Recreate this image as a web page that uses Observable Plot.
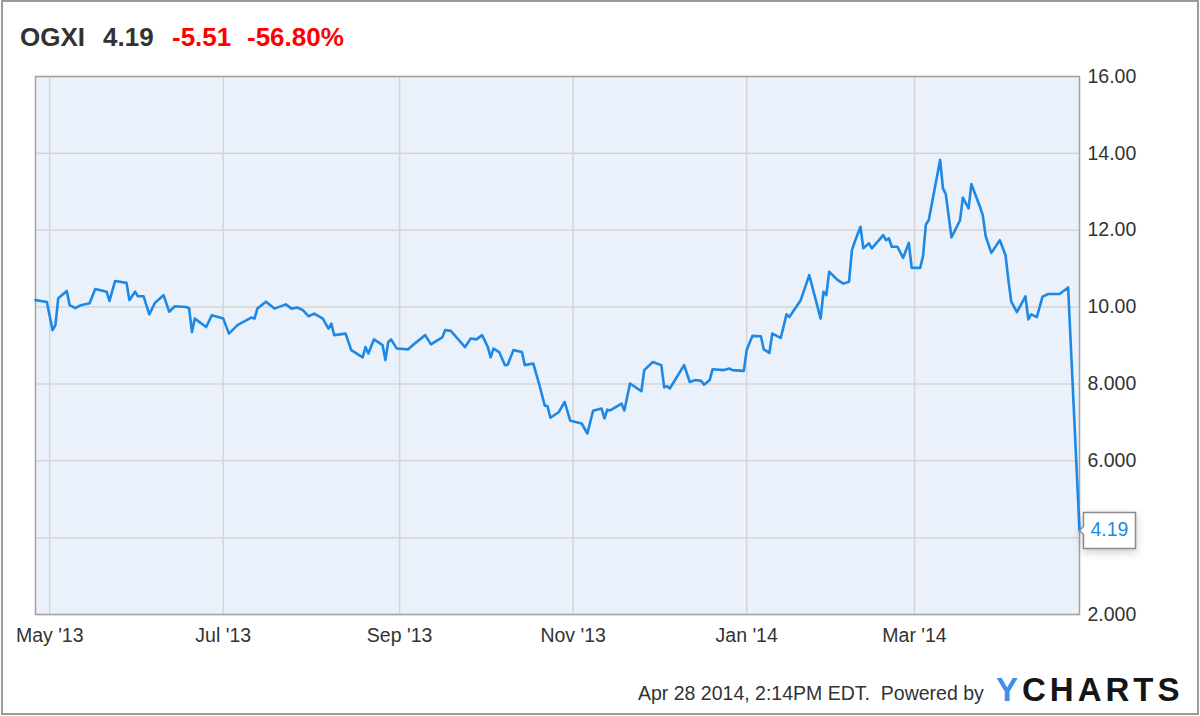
<!DOCTYPE html>
<html><head><meta charset="utf-8">
<script src="https://cdn.jsdelivr.net/npm/d3@7"></script>
<script src="https://cdn.jsdelivr.net/npm/@observablehq/plot@0.6"></script>
<style>
html,body{margin:0;padding:0;background:#fff;}
#wrap{position:relative;width:1200px;height:716px;overflow:hidden;font-family:"Liberation Sans",Arial,sans-serif;}
#border{position:absolute;left:1px;top:0;width:1198px;height:715px;box-sizing:border-box;border:2px solid #9b9b9b;pointer-events:none;}
.t{position:absolute;line-height:1;white-space:pre;}
.title{top:24px;font-size:26px;font-weight:bold;}
#chart{position:absolute;left:0;top:60px;}
#chart svg g[aria-label="tip"]{filter:none !important;}
#chart svg g[aria-label="tip"] text, #chart svg g[aria-label="tip"] tspan{fill:#1e88e5;}
</style></head>
<body><div id="wrap">
<span class="t title" style="left:20px;color:#333">OGXI</span>
<span class="t title" style="left:103px;color:#333">4.19</span>
<span class="t title" style="left:172px;color:#ff0000">-5.51</span>
<span class="t title" style="left:247px;color:#ff0000">-56.80%</span>
<div id="chart"></div>
<span class="t" style="left:638px;top:683.5px;font-size:19.5px;color:#333">Apr 28 2014, 2:14PM EDT.&nbsp; Powered by</span>
<span class="t" style="left:996px;top:673px;font-size:33px;font-weight:bold;letter-spacing:4px;color:#151515"><span style="color:#3f8fe6">Y</span>CHARTS</span>
<div id="border"></div>
</div>
<script>
const dates = [
"2013-04-26","2013-04-30","2013-05-02","2013-05-03","2013-05-04","2013-05-07","2013-05-08","2013-05-10","2013-05-12","2013-05-15","2013-05-17","2013-05-21","2013-05-22","2013-05-24","2013-05-28","2013-05-29","2013-05-31",
"2013-06-01","2013-06-03","2013-06-05","2013-06-07","2013-06-10","2013-06-12","2013-06-14","2013-06-18","2013-06-19","2013-06-20","2013-06-21","2013-06-25","2013-06-27",
"2013-07-01","2013-07-03","2013-07-06","2013-07-11","2013-07-12","2013-07-13","2013-07-16","2013-07-19","2013-07-23","2013-07-25","2013-07-27","2013-07-29","2013-07-31",
"2013-08-02","2013-08-05","2013-08-07","2013-08-08","2013-08-09","2013-08-13","2013-08-15","2013-08-19","2013-08-20","2013-08-21","2013-08-23","2013-08-26","2013-08-27","2013-08-28","2013-08-29","2013-08-31",
"2013-09-04","2013-09-06","2013-09-10","2013-09-12","2013-09-14","2013-09-16","2013-09-17","2013-09-19","2013-09-24","2013-09-26","2013-09-28","2013-09-30",
"2013-10-02","2013-10-03","2013-10-04","2013-10-06","2013-10-08","2013-10-09","2013-10-11","2013-10-14","2013-10-15","2013-10-18","2013-10-20","2013-10-22","2013-10-23","2013-10-24","2013-10-27","2013-10-29","2013-10-31",
"2013-11-04","2013-11-06","2013-11-08","2013-11-11","2013-11-12","2013-11-13","2013-11-14","2013-11-17","2013-11-18","2013-11-19","2013-11-21","2013-11-25","2013-11-26","2013-11-29",
"2013-12-02","2013-12-03","2013-12-04","2013-12-05","2013-12-10","2013-12-12","2013-12-14","2013-12-16","2013-12-17","2013-12-19","2013-12-20","2013-12-24","2013-12-26","2013-12-27","2013-12-31",
"2014-01-01","2014-01-03","2014-01-06","2014-01-07","2014-01-09","2014-01-10","2014-01-13","2014-01-15","2014-01-16","2014-01-20","2014-01-23","2014-01-27","2014-01-28","2014-01-29","2014-01-30",
"2014-02-02","2014-02-04","2014-02-06","2014-02-07","2014-02-08","2014-02-10","2014-02-11","2014-02-13","2014-02-14","2014-02-18","2014-02-19","2014-02-20","2014-02-21","2014-02-23","2014-02-25","2014-02-27","2014-02-28",
"2014-03-03","2014-03-04","2014-03-05","2014-03-06","2014-03-10","2014-03-11","2014-03-12","2014-03-14","2014-03-17","2014-03-18","2014-03-20","2014-03-21","2014-03-24","2014-03-25","2014-03-26","2014-03-28","2014-03-31",
"2014-04-02","2014-04-03","2014-04-04","2014-04-06","2014-04-09","2014-04-10","2014-04-11","2014-04-13","2014-04-15","2014-04-17","2014-04-21","2014-04-24","2014-04-28"
];
const closes = [
10.18,10.13,9.40,9.53,10.23,10.42,10.05,9.97,10.05,10.10,10.47,10.40,10.16,10.68,10.63,10.18,10.40,
10.28,10.28,9.81,10.11,10.31,9.88,10.02,10.00,9.97,9.35,9.70,9.48,9.79,
9.70,9.31,9.53,9.73,9.70,9.96,10.14,9.96,10.07,9.96,9.99,9.92,9.76,
9.83,9.70,9.44,9.57,9.27,9.31,8.88,8.69,8.96,8.79,9.16,9.01,8.62,9.09,9.16,8.92,
8.90,9.03,9.27,9.03,9.12,9.21,9.40,9.38,8.96,9.18,9.16,9.27,
8.96,8.69,8.92,8.83,8.49,8.50,8.88,8.83,8.49,8.53,8.01,7.44,7.42,7.12,7.27,7.53,7.04,
6.97,6.71,7.30,7.36,7.10,7.33,7.31,7.44,7.49,7.31,8.01,7.81,8.36,8.57,
8.49,7.91,7.94,7.88,8.49,8.05,8.10,8.08,7.98,8.10,8.38,8.36,8.40,8.36,8.34,
8.88,9.25,9.24,8.90,8.81,9.31,9.20,9.81,9.74,10.18,10.83,9.70,10.40,10.31,10.92,
10.70,10.61,10.66,11.48,11.70,12.09,11.53,11.66,11.53,11.87,11.74,11.79,11.57,11.57,11.28,11.67,11.02,
11.02,11.33,12.15,12.26,13.83,13.09,12.94,11.81,12.26,12.85,12.57,13.20,12.61,12.39,11.85,11.41,11.74,
11.35,10.70,10.14,9.87,10.28,9.68,9.81,9.74,10.27,10.34,10.34,10.51,4.19
];
const xDomain = ["2013-04-26","2014-04-28"];
const xTicks = ["2013-05-01","2013-07-01","2013-09-01","2013-11-01","2014-01-01","2014-03-01"];
const yGrid = [2,4,6,8,10,12,14,16];
// the 4.000 label is hidden behind the last-price box in the reference
const yLabels = [2,6,8,10,12,14,16];
const yDomain = [2,16];

const data = dates.map((d,i)=>({date:new Date(d), close:closes[i]}));
const last = [data[data.length-1]];
const xt = xTicks.map(d=>new Date(d));
const fmtX = d3.utcFormat("%b '%y");
const fmtY = v => v >= 10 ? v.toFixed(2) : v.toFixed(3);

const marks = [
  Plot.frame({fill:"#eaf1fb", stroke:null}),
  Plot.gridX(xt, {stroke:"#d5d5d5", strokeOpacity:1, strokeWidth:1.5}),
  Plot.gridY(yGrid, {stroke:"#d5d5d5", strokeOpacity:1, strokeWidth:1.5}),
  Plot.frame({stroke:"#a3a3a3", strokeWidth:1.5}),
  Plot.axisX(xt, {tickSize:0, tickPadding:14, tickFormat:fmtX, fill:"#333", fontSize:19.5, label:null}),
  Plot.axisY(yLabels, {anchor:"right", tickSize:0, tickPadding:8, tickFormat:fmtY, fill:"#333", fontSize:19.5, label:null}),
  Plot.line(data, {x:"date", y:"close", stroke:"#1e88e5", strokeWidth:2.6, strokeLinejoin:"round"})
];
if (Plot.tip) {
  marks.push(Plot.tip(last, {x:"date", y:"close", title:d=>d.close.toFixed(2), anchor:"left",
    fill:"white", stroke:"#8c8c8c", strokeWidth:1.5, pointerSize:8, textPadding:7, fontSize:19.5, lineHeight:0.85}));
}
const plot = Plot.plot({
  width:1200, height:600,
  marginLeft:35, marginRight:121, marginTop:16, marginBottom:46,
  x:{type:"utc", domain:xDomain.map(d=>new Date(d)), label:null},
  y:{domain:yDomain, label:null},
  style:{fontFamily:"'Liberation Sans', Arial, sans-serif", fontSize:"19.5px", color:"#333", background:"transparent"},
  marks
});
document.getElementById("chart").appendChild(plot);
</script>
</body></html>
